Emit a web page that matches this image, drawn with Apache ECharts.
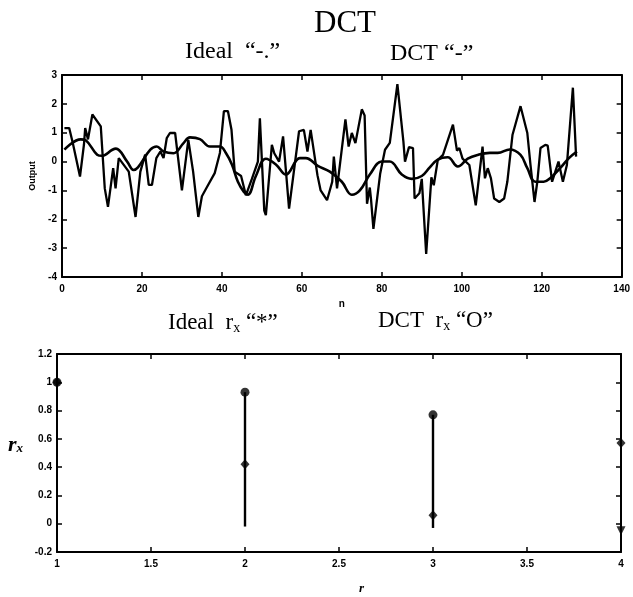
<!DOCTYPE html>
<html>
<head>
<meta charset="utf-8">
<script src="https://cdn.jsdelivr.net/npm/echarts@6/dist/echarts.min.js"></script>
<style>
html,body{margin:0;padding:0;background:#fff;}
#c{width:633px;height:597px;}
</style>
</head>
<body>
<div id="c"></div>
<script>
// ---- Top panel: output signals ----
const idealN = [0.6, 4.7, 6, 8.8, 10, 12.6, 13.5, 16.3, 17.9, 19, 22.1, 23.7, 25.4, 27.9, 30.4, 32, 34.5, 37, 39.5, 41, 42.5, 44, 45.5, 46.5, 48.5, 51, 53.5, 56, 59.5, 61, 64, 67, 70, 72.5, 74.5, 77, 80, 82, 85, 87.5, 90, 92, 94, 96.5, 99, 101.5, 104, 107, 109, 112, 114.7, 116.4, 118.4, 120.5, 122.1, 124.6, 126.8, 128.8];
const idealV = [0.41, 0.77, 0.73, 0.24, 0.2, 0.41, 0.45, 0.0, -0.29, -0.2, 0.41, 0.52, 0.35, 0.29, 0.64, 0.84, 0.78, 0.52, 0.52, 0.3, -0.1, -0.7, -1.05, -1.15, -0.5, 0.1, -0.1, -0.45, 0.12, 0.12, -0.15, -0.35, -0.7, -1.15, -1.0, -0.45, 0.0, 0.0, -0.45, -0.6, -0.5, -0.2, 0.07, 0.15, -0.17, 0.1, 0.23, 0.3, 0.3, 0.42, 0.23, -0.23, -0.7, -0.7, -0.58, -0.23, 0.12, 0.35];

const dctN = [0.6, 1.8, 2.7, 4.5, 5.5, 5.8, 6.5, 7.6, 9.7, 10.7, 11.5, 12.8, 13.4, 14.2, 16.7, 18.4, 19.6, 20.8, 21.7, 22.5, 23.6, 24.6, 25.4, 26.2, 27, 28.3, 30, 31.6, 32, 32.8, 34.1, 35, 36.2, 38.2, 39.5, 40.5, 41.5, 42.4, 43.2, 44.8, 46, 47.5, 49, 49.5, 50.6, 51, 52.5, 53.1, 54.3, 55.3, 56.8, 59.3, 60.5, 61.4, 62.2, 63.9, 64.7, 66.3, 67.6, 68, 68.8, 70.9, 71.7, 72.5, 73.4, 75, 75.7, 76.3, 77, 77.3, 77.9, 79.6, 80.8, 82, 83.9, 85.4, 85.8, 86.8, 87.8, 88.2, 89.4, 90, 91.1, 92.4, 93, 94, 95.3, 97.8, 98.8, 99.4, 100.2, 101.9, 103.5, 105.2, 105.8, 106.5, 107.3, 108.1, 109.4, 110.6, 111.4, 112.7, 114.7, 116.4, 117.2, 118.2, 118.9, 119.7, 120.9, 121.5, 122.6, 123.4, 124.2, 125.3, 126.3, 127.8, 128.6];
const dctV = [1.16, 1.16, 0.64, -0.52, 0.6, 1.16, 0.77, 1.63, 1.22, -0.93, -1.57, -0.23, -0.93, 0.12, -0.35, -1.92, -0.35, 0.24, -0.81, -0.81, 0.12, 0.35, 0.12, 0.81, 0.99, 0.99, -1.0, 0.75, 0.81, -0.35, -1.92, -1.2, -0.9, -0.4, 0.3, 1.75, 1.75, 1.1, -0.35, -0.5, -1.17, -0.6, 0.0, 1.5, -1.7, -1.86, 0.58, 0.29, 0.0, 0.87, -1.63, 1.05, 1.1, 0.35, 1.1, -0.47, -1.0, -1.34, -0.7, 0.17, -0.93, 1.46, 0.52, 0.99, 0.64, 1.81, 1.6, -1.46, -0.9, -1.3, -2.33, -0.41, 0.41, 0.65, 2.68, 0.7, 0.0, 0.5, 0.47, -1.28, -1.1, -0.6, -3.2, -0.55, -0.82, 0.05, 0.23, 1.28, 0.38, 0.47, 0.1, -0.12, -1.52, 0.52, -0.58, -0.23, -0.58, -1.28, -1.4, -1.28, -0.7, 0.93, 1.92, 0.99, -0.12, -1.4, -0.7, 0.47, 0.58, 0.55, -0.7, -0.35, 0.0, -0.7, -0.12, 2.56, 0.17];

// ---- Bottom panel: correlation r_x ----
const lagR = [1, 2, 3, 4];
const idealRx = [1.0, 0.42, 0.06, 0.57];
const dctRx = [1.0, 0.93, 0.77, -0.05];
const stemR = [2, 3];
const stemLow = [-0.02, -0.03];
const stemHigh = [0.93, 0.77];

const topXTicks = {min: 0, max: 140, interval: 20};
const topYTicks = {min: -4, max: 3, interval: 1};
const botXTicks = {min: 1, max: 4, interval: 0.5};
const botYTicks = {min: -0.2, max: 1.2, interval: 0.2};

const zip = (a, b) => a.map((v, i) => [v, b[i]]);

const serif = "'Liberation Serif', 'DejaVu Serif', serif";
const sans = "'Liberation Sans', Arial, sans-serif";
const lbl = {color: '#000', fontFamily: sans, fontWeight: 'bold', fontSize: 10};
const axLine = {show: true, onZero: false, lineStyle: {color: '#000', width: 2}};
const tickIn = {show: true, inside: true, length: 5, lineStyle: {color: '#000', width: 1.5}};

function xAx(grid, t, pos, showLabel, extra) {
  return Object.assign({
    type: 'value', gridIndex: grid, position: pos, min: t.min, max: t.max, interval: t.interval,
    axisLine: axLine, axisTick: tickIn, splitLine: {show: false},
    axisLabel: Object.assign({show: showLabel, margin: 7}, lbl)
  }, extra || {});
}
function yAx(grid, t, pos, showLabel, extra) {
  return Object.assign({
    type: 'value', gridIndex: grid, position: pos, min: t.min, max: t.max, interval: t.interval,
    axisLine: axLine, axisTick: tickIn, splitLine: {show: false},
    axisLabel: Object.assign({show: showLabel, margin: 5}, lbl)
  }, extra || {});
}

const chart = echarts.init(document.getElementById('c'));
chart.setOption({
  backgroundColor: '#fff',
  animation: false,
  grid: [
    {left: 62, top: 75, width: 563, height: 202},
    {left: 57, top: 354, width: 564, height: 198}
  ],
  xAxis: [
    xAx(0, topXTicks, 'bottom', true, {name: 'n', nameLocation: 'middle', nameGap: 22,
      nameTextStyle: {fontFamily: sans, fontWeight: 'bold', fontSize: 10, color: '#000'}}),
    xAx(0, topXTicks, 'top', false),
    xAx(1, botXTicks, 'bottom', true, {axisLabel: Object.assign({show: true, margin: 7,
      formatter: v => String(Math.round(v * 10) / 10)}, lbl)}),
    xAx(1, botXTicks, 'top', false)
  ],
  yAxis: [
    yAx(0, topYTicks, 'left', true, {name: 'Output', nameLocation: 'middle', nameGap: 20, nameRotate: 90,
      nameTextStyle: {fontFamily: sans, fontWeight: 'bold', fontSize: 9, color: '#000'}}),
    yAx(0, topYTicks, 'right', false),
    yAx(1, botYTicks, 'left', true, {axisLabel: Object.assign({show: true, margin: 5,
      formatter: v => String(Math.round(v * 10) / 10)}, lbl)}),
    yAx(1, botYTicks, 'right', false)
  ],
  graphic: [
    {type: 'text', x: 345, y: 8, style: {text: 'DCT', font: '31px ' + serif, fill: '#000', align: 'center'}},
    {type: 'text', x: 185, y: 40, style: {text: 'Ideal  \u201c-.\u201d', font: '24px ' + serif, fill: '#000'}},
    {type: 'text', x: 390, y: 42, style: {text: 'DCT \u201c-\u201d', font: '24px ' + serif, fill: '#000'}},
    {type: 'text', x: 168, y: 311, style: {
      rich: {a: {font: '23px ' + serif, fill: '#000'}, s: {font: '14px ' + serif, fill: '#000', padding: [10, 0, 0, 0]}},
      text: '{a|Ideal  r}{s|x}{a| \u201c*\u201d}'}},
    {type: 'text', x: 378, y: 309, style: {
      rich: {a: {font: '23px ' + serif, fill: '#000'}, s: {font: '14px ' + serif, fill: '#000', padding: [10, 0, 0, 0]}},
      text: '{a|DCT  r}{s|x}{a| \u201cO\u201d}'}},
    {type: 'text', x: 8, y: 434, style: {
      rich: {a: {font: 'italic bold 22px ' + serif, fill: '#000'}, s: {font: 'italic bold 13px ' + serif, fill: '#000', padding: [8, 0, 0, 0]}},
      text: '{a|r}{s|x}'}},
    {type: 'text', x: 359, y: 582, style: {text: 'r', font: 'italic bold 13px ' + serif, fill: '#000'}}
  ],
  series: [
    {type: 'line', xAxisIndex: 0, yAxisIndex: 0, data: zip(idealN, idealV), smooth: 0.4,
      showSymbol: false, lineStyle: {color: '#000', width: 2.6}},
    {type: 'line', xAxisIndex: 0, yAxisIndex: 0, data: zip(dctN, dctV),
      showSymbol: false, lineStyle: {color: '#000', width: 2.3}},
    {type: 'custom', xAxisIndex: 2, yAxisIndex: 2,
      data: stemR.map((r, i) => [r, stemLow[i], stemHigh[i]]),
      encode: {x: 0, y: [1, 2]},
      renderItem: (params, api) => {
        const p1 = api.coord([api.value(0), api.value(1)]);
        const p2 = api.coord([api.value(0), api.value(2)]);
        return {type: 'line', shape: {x1: p1[0], y1: p1[1], x2: p2[0], y2: p2[1]},
          style: {stroke: '#000', lineWidth: 2.4}};
      }},
    {type: 'scatter', xAxisIndex: 2, yAxisIndex: 2,
      data: lagR.map((r, i) => i === 3 ? {value: [r, dctRx[i]], symbol: 'triangle', symbolRotate: 180, symbolSize: 9} : [r, dctRx[i]]),
      symbol: 'circle', symbolSize: 9, itemStyle: {color: '#000'}},
    {type: 'scatter', xAxisIndex: 2, yAxisIndex: 2, data: zip(lagR, idealRx),
      symbol: 'diamond', symbolSize: [9, 10], itemStyle: {color: '#000'}}
  ]
});
</script>
</body>
</html>
